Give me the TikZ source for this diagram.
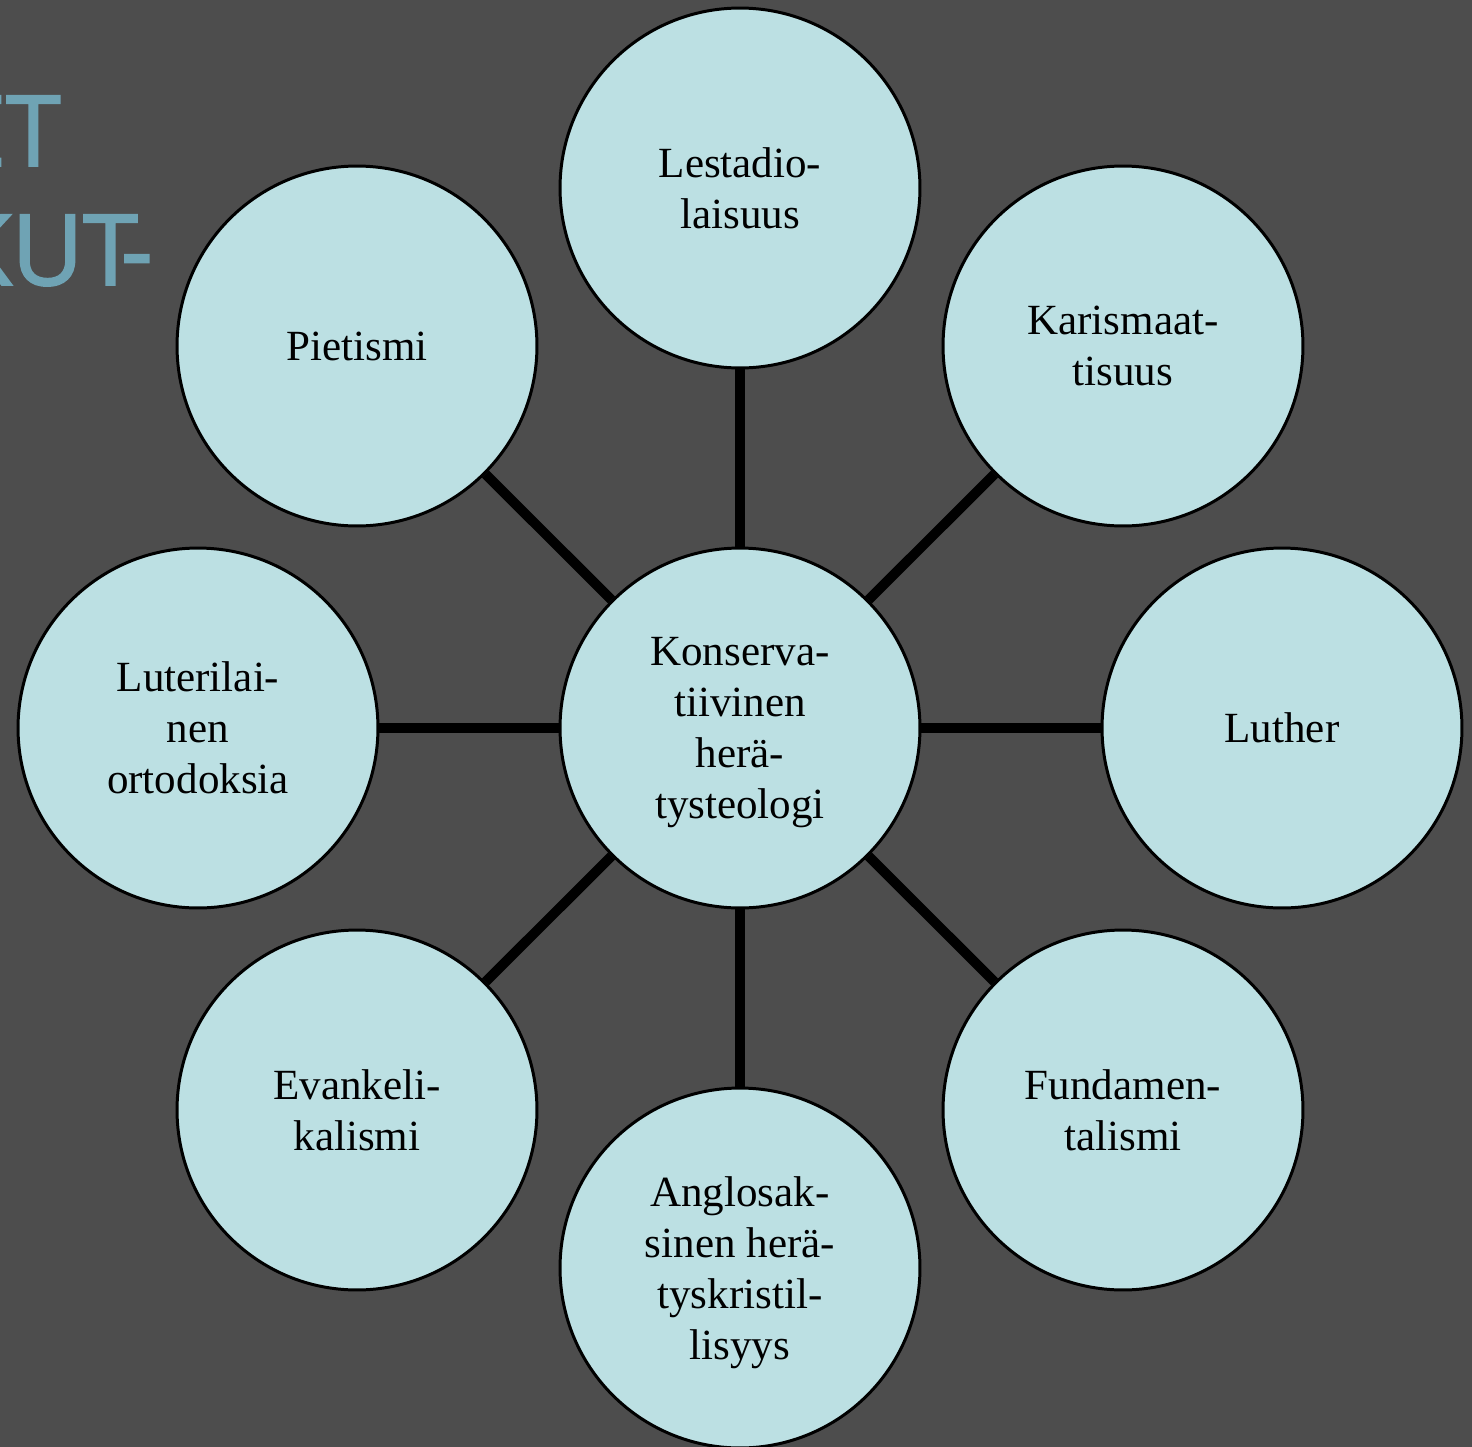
\documentclass[tikz,border=0pt]{standalone}
\usepackage{fontspec}
\setmainfont{Liberation Serif}
\newfontfamily\titlefont[FakeBold=2]{Open Sans}
\definecolor{bgGray}{HTML}{4D4D4D}
\definecolor{circleBlue}{HTML}{BCE0E3}
\definecolor{titleTeal}{HTML}{6FA3B4}
\tikzset{
  VertexStyle/.style={circle, draw=black, line width=1.7pt, fill=circleBlue,
    minimum size=7.2cm, inner sep=0pt, align=center, text depth=0pt,
    font=\fontsize{24.5}{29}\selectfont},
  EdgeStyle/.style={line width=5.6pt, black},
  TitleStyle/.style={text=titleTeal, inner sep=0pt,
    font=\titlefont\fontsize{56}{60}\selectfont}
}

\begin{document}
\begin{tikzpicture}[x=0.02cm, y=-0.02cm]
\fill[bgGray] (0,0) rectangle (1472,1447);
\clip (0,0) rectangle (1472,1447);
\node[TitleStyle, anchor=base east] (title1) at (61,166) {ET};
\node[TitleStyle, anchor=base east] (title2) at (153,285) {KUT\kern-0.17em-};
\node[VertexStyle] (center) at (740,728) {Konserva-\\tiivinen\\herä-\\tysteologi};
\foreach \name/\pos/\txt in {
  lest/{(740,188)}/{Lestadio-\\laisuus},
  kar/{(1123,346)}/{Karismaat-\\tisuus},
  luther/{(1282,728)}/{Luther},
  fund/{(1123,1110)}/{Fundamen-\\talismi},
  anglo/{(740,1268)}/{Anglosak-\\sinen herä-\\tyskristil-\\lisyys},
  evank/{(357,1110)}/{Evankeli-\\kalismi},
  luter/{(198,728)}/{Luterilai-\\nen\\ortodoksia},
  piet/{(357,346)}/{Pietismi}}
{
  \node[VertexStyle] (\name) at \pos {\txt};
  \draw[EdgeStyle] (center) -- (\name);
}
\end{tikzpicture}
\end{document}
